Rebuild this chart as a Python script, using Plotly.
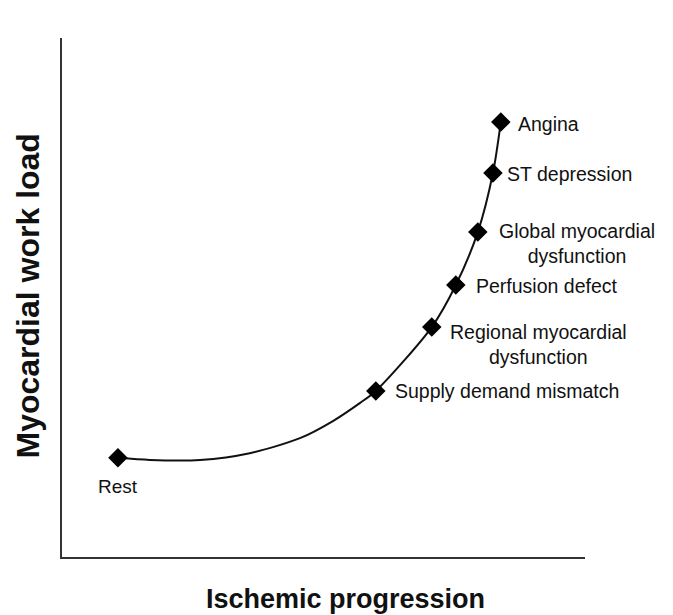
import plotly.graph_objects as go

# Stages (markers) (axis units 0-100)
stages = ["Rest", "Supply demand mismatch", "Regional myocardial<br>dysfunction",
          "Perfusion defect", "Global myocardial<br>dysfunction", "ST depression", "Angina"]
stage_x = [10.7, 60.0, 70.7, 75.3, 79.5, 82.4, 83.9]
stage_y = [19.1, 32.0, 44.3, 52.4, 62.6, 74.0, 83.8]

# Curve trace points
curve_x = [10.7, 16.8, 26.4, 35.9, 45.5, 51.8, 57.0, 60.0, 70.7, 75.3, 79.5, 82.4, 83.9]
curve_y = [19.1, 18.7, 18.7, 20.0, 22.9, 26.2, 29.7, 32.0, 44.3, 52.4, 62.6, 74.0, 83.8]

x_title = "Ischemic progression"
y_title = "Myocardial work load"

# label placement (pixel offsets)
label_dx = [0, 17, 16, 18, 19, 12, 15]
label_dy = [-29, 0, -17, -1, -11, -1, -2]

FONT = "Liberation Sans, Arial, Helvetica, sans-serif"

fig = go.Figure()
fig.add_trace(go.Scatter(x=curve_x, y=curve_y, mode="lines",
                         line=dict(color="#111111", width=2, shape="spline", smoothing=0.8),
                         hoverinfo="skip", showlegend=False))
fig.add_trace(go.Scatter(x=stage_x, y=stage_y, mode="markers",
                         marker=dict(symbol="diamond", size=15, color="#000000"),
                         text=stages, showlegend=False))

for i, (lab, x, y) in enumerate(zip(stages, stage_x, stage_y)):
    if i == 0:
        fig.add_annotation(x=x, y=y, text=lab, showarrow=False, xanchor="center", yanchor="middle",
                           yshift=label_dy[i], font=dict(family=FONT, size=19, color="#111111"))
    else:
        fig.add_annotation(x=x, y=y, text=lab, showarrow=False, xanchor="left", yanchor="middle",
                           align="center", xshift=label_dx[i], yshift=label_dy[i],
                           font=dict(family=FONT, size=19.5, color="#111111"))

fig.add_annotation(x=0.5, y=0, xref="paper", yref="paper", text=f"<b>{x_title}</b>", showarrow=False,
                   xanchor="center", yanchor="middle", xshift=22, yshift=-42,
                   font=dict(family=FONT, size=27, color="#111111"))
fig.add_annotation(x=0, y=0.5, xref="paper", yref="paper", text=f"<b>{y_title}</b>", showarrow=False,
                   textangle=-90, xanchor="center", yanchor="middle", xshift=-35, yshift=1,
                   font=dict(family=FONT, size=32, color="#111111"))

axis_common = dict(showline=True, linecolor="#333333", linewidth=2, showgrid=False,
                   zeroline=False, showticklabels=False, ticks="", range=[0, 100], fixedrange=True)
fig.update_layout(
    width=673, height=615,
    margin=dict(l=62, r=88, t=38, b=58),
    plot_bgcolor="white", paper_bgcolor="white",
    xaxis=axis_common, yaxis=axis_common,
    showlegend=False,
)
fig.write_html("out.html", config={"displayModeBar": False},
               post_script="document.body.style.margin='0';")
